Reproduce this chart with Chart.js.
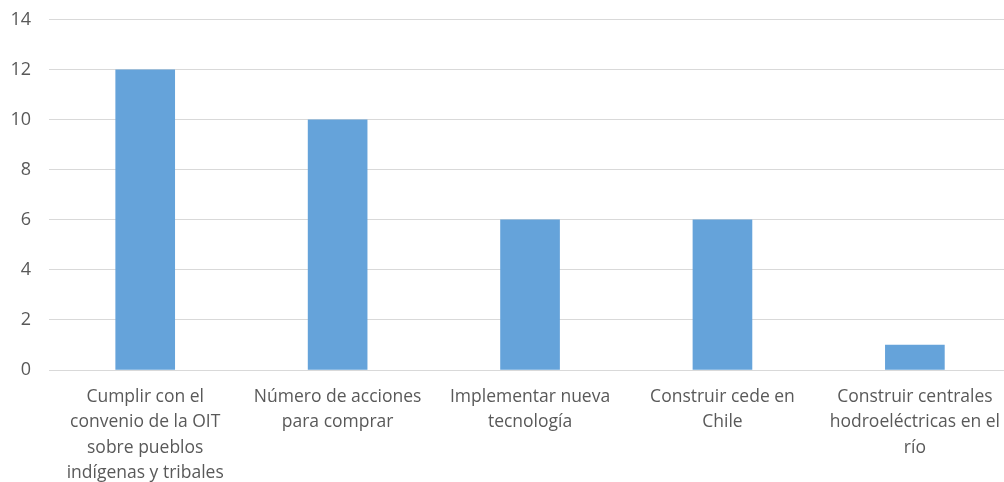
<!DOCTYPE html>
<html>
<head>
<meta charset="utf-8">
<script src="https://cdn.jsdelivr.net/npm/chart.js@4/dist/chart.umd.min.js"></script>
<style>
html,body{margin:0;padding:0;background:#fff;overflow:hidden;}
#wrap{width:1014px;height:491px;position:relative;margin-top:-9px;}
</style>
</head>
<body>
<div id="wrap"><canvas id="c"></canvas></div>
<script>
const categories = [
  ["Cumplir con el", "convenio de la OIT", "sobre pueblos", "indígenas y tribales"],
  ["Número de acciones", "para comprar"],
  ["Implementar nueva", "tecnología"],
  ["Construir cede en", "Chile"],
  ["Construir centrales", "hodroeléctricas en el", "río"]
];
const values = [12, 10, 6, 6, 1];
const yTicks = [0, 2, 4, 6, 8, 10, 12, 14];

const font = {family: "'Open Sans', 'Liberation Sans', sans-serif", size: 17.5};

new Chart(document.getElementById('c'), {
  type: 'bar',
  data: {
    labels: categories,
    datasets: [{
      data: values,
      backgroundColor: '#65A3DA',
      borderWidth: 0,
      barThickness: 59
    }]
  },
  options: {
    responsive: true,
    maintainAspectRatio: false,
    animation: false,
    layout: {padding: {top: 2, right: 0, left: 0, bottom: 0}},
    plugins: {legend: {display: false}, tooltip: {enabled: false}},
    scales: {
      x: {
        grid: {display: false, drawTicks: false},
        border: {display: false},
        ticks: {
          color: '#595959', font: {...font, lineHeight: 1.46},
          maxRotation: 0, minRotation: 0, autoSkip: false, padding: 14
        },
        afterFit: s => { s.height = 112; }
      },
      y: {
        min: 0, max: 14,
        afterBuildTicks: s => { s.ticks = yTicks.map(v => ({value: v})); },
        grid: {color: '#d9d9d9', lineWidth: 1, drawTicks: false},
        border: {display: false},
        ticks: {color: '#595959', font: {...font, size: 18}, padding: 18},
        afterFit: s => { s.width = 49; }
      }
    }
  }
});
</script>
</body>
</html>
